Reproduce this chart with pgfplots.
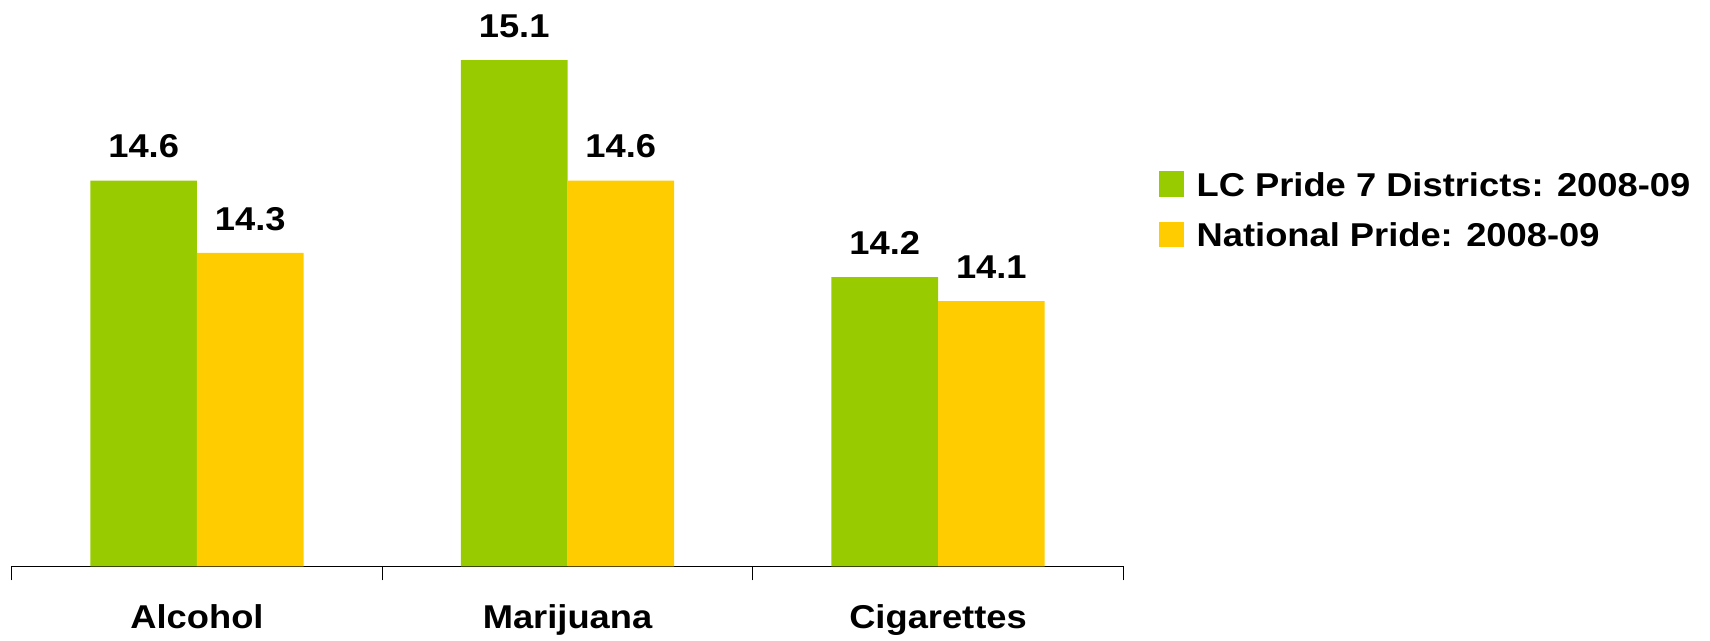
\documentclass[border=0pt]{standalone}
\usepackage{pgfplots}
\pgfplotsset{compat=1.18}
\usepackage{fontspec}
\setmainfont{Liberation Sans}[FakeStretch=1.1]
\definecolor{cgreen}{HTML}{99CC00}
\definecolor{cyellow}{HTML}{FFCC00}
\newcommand{\lblfont}{\fontsize{16.5}{19}\selectfont\bfseries}
\begin{document}
\begin{tikzpicture}
\useasboundingbox (0,0) rectangle (855pt,320.5pt);
\begin{axis}[
  at={(5.85pt,37.25pt)}, anchor=south west,
  scale only axis, width=555.8pt, height=283.25pt,
  ybar=0pt, bar width=53.3pt,
  xmin=-0.5, xmax=2.5, ymin=13, ymax=15.349,
  axis x line=bottom, axis y line=none,
  axis line style={black, line width=0.6pt, -},
  xtick={0,1,2}, xticklabels={Alcohol,Marijuana,Cigarettes},
  major tick length=0pt,
  major x tick style={draw=none},
  minor xtick={-0.5,0.5,1.5,2.5},
  minor tick length=7pt, tick align=outside,
  minor x tick style={black, line width=0.6pt},
  xticklabel style={font=\lblfont, anchor=base, yshift=-31pt},
  nodes near coords,
  /pgf/number format/assume math mode=true,
  /pgf/number format/.cd, fixed, precision=1, fixed zerofill, /pgfplots/.cd,
  every node near coord/.append style={font=\lblfont, black, anchor=base, yshift=11.4pt},
  legend image code/.code={\path (0pt,0pt) rectangle (12.65pt,0pt); \fill[#1,overlay] (0pt,-5.5pt) rectangle (12.65pt,7.2pt);},
  legend cell align=left,
  legend style={at={(rel axis cs:1.0321,0.696)}, anchor=north west, draw=none, fill=none,
    inner sep=0pt, outer sep=0pt, font=\lblfont,
    nodes={inner sep=0pt}, column sep=6.2pt, row sep=11.8pt},
]
\addplot[fill=cgreen, draw=none] coordinates {(0,14.6) (1,15.1) (2,14.2)};
\addplot[fill=cyellow, draw=none] coordinates {(0,14.3) (1,14.6) (2,14.1)};
\legend{LC Pride 7 Districts: 2008-09, National Pride: 2008-09}
\end{axis}
\end{tikzpicture}
\end{document}
